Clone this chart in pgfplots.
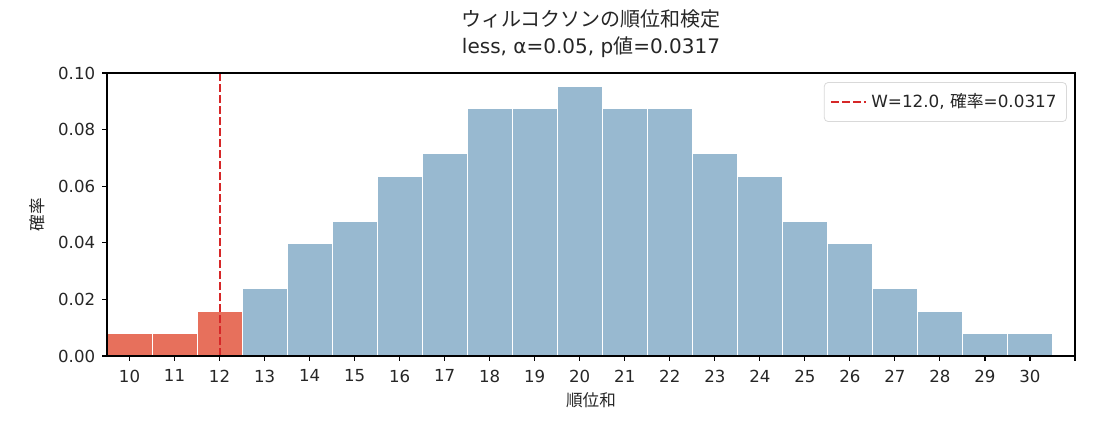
\documentclass[border=0pt]{standalone}
\usepackage{fontspec}
\setmainfont{DejaVu Sans}
\newfontfamily\jp{Noto Sans CJK JP}
\usepackage{pgfplots}
\pgfplotsset{compat=1.18}
\definecolor{redbar}{RGB}{231,112,92}
\definecolor{bluebar}{RGB}{152,185,208}
\definecolor{vline}{RGB}{214,39,40}
\definecolor{txt}{RGB}{38,38,38}
\begin{document}
\begin{tikzpicture}
\path[use as bounding box] (-53.5pt,-32pt) rectangle (497.5pt,178pt);
\begin{axis}[
  at={(0pt,0pt)}, anchor=south west,
  scale only axis,
  width=484pt, height=141.5pt,
  xmin=9.5, xmax=31, ymin=0, ymax=0.1,
  axis on top,
  axis line style={line width=0.55pt, black},
  tick style={line width=0.55pt, black},
  major tick length=2.4pt,
  tick align=outside,
  xtick pos=bottom, ytick pos=left,
  xtick={10,...,31},
  xticklabels={10,11,12,13,14,15,16,17,18,19,20,21,22,23,24,25,26,27,28,29,30,{}},
  ytick={0,0.02,0.04,0.06,0.08,0.1},
  yticklabel style={/pgf/number format/.cd, fixed, fixed zerofill, precision=2},
  /pgf/number format/assume math mode=true,
  tick label style={font=\fontsize{8.3}{10}\selectfont, text=txt},
  xticklabel style={yshift=-1pt},
  every axis y label/.style={at={(axis description cs:-0.0723,0.5)}, anchor=center, rotate=90, font=\jp\fontsize{8.3}{10}\selectfont, text=txt},
  every axis x label/.style={at={(axis description cs:0.5,-0.155)}, anchor=center, font=\jp\fontsize{8.3}{10}\selectfont, text=txt},
  ylabel={確率},
  xlabel={順位和},
  title={{\jp ウィルコクソンの順位和検定}\\less, α=0.05, p{\jp 値}=0.0317},
  every axis title/.style={at={(axis description cs:0.5,1.1396)}, anchor=center, align=center, font=\fontsize{10}{13.5}\selectfont, text=txt},
  legend style={at={(0.9917,0.968)}, anchor=north east, draw=black!15, rounded corners=2pt, fill=white,
    font=\fontsize{8.4}{10}\selectfont, text=txt, inner xsep=3pt, inner ysep=3.5pt},
  legend cell align=left,
  legend image code/.code={\draw[#1] (0pt,0pt) -- (17.5pt,0pt);},
  clip=false,
]
\addplot[ybar, bar width=1, bar shift=0pt, fill=redbar, draw=white, line width=0.5pt, forget plot]
  coordinates {(10,0.0079365) (11,0.0079365) (12,0.015873)};
\addplot[ybar, bar width=1, bar shift=0pt, fill=bluebar, draw=white, line width=0.5pt, forget plot]
  coordinates {(13,0.0238095) (14,0.0396825) (15,0.047619) (16,0.0634921) (17,0.0714286)
  (18,0.0873016) (19,0.0873016) (20,0.0952381) (21,0.0873016) (22,0.0873016) (23,0.0714286)
  (24,0.0634921) (25,0.047619) (26,0.0396825) (27,0.0238095) (28,0.015873) (29,0.0079365) (30,0.0079365)};
\addplot[vline, line width=1.04pt, dash pattern=on 3.85pt off 1.65pt]
  coordinates {(12,0) (12,0.1)};
\addlegendentry{W=12.0, {\jp 確率}=0.0317}
\end{axis}
\end{tikzpicture}
\end{document}
